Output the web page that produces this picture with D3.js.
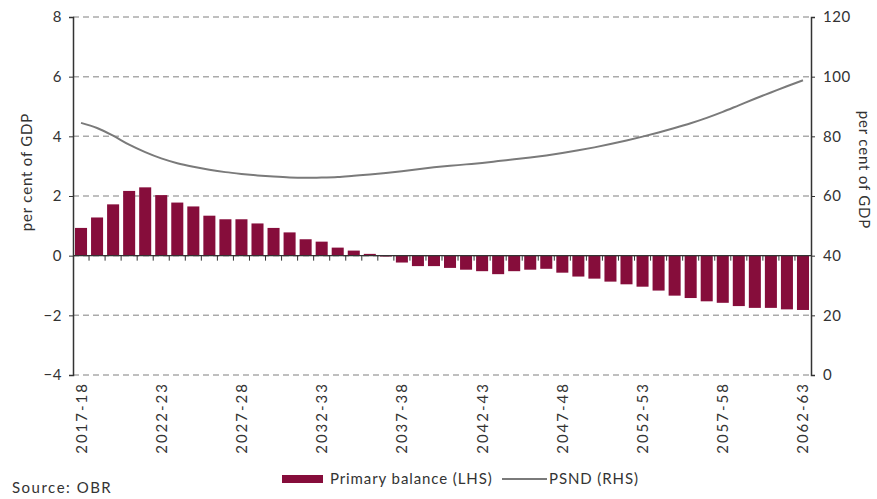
<!DOCTYPE html>
<html>
<head>
<meta charset="utf-8">
<script src="https://cdn.jsdelivr.net/npm/d3@7"></script>
<style>
  body { margin: 0; background: #fff; }
  text { font-family: Lato, "Open Sans", sans-serif; fill: #333; }
</style>
</head>
<body>
<svg id="chart" width="877" height="499"></svg>
<script>
// fiscal years 2017-18 .. 2062-63
var years = d3.range(2017, 2063).map(function(y){
    return y + "-" + String((y + 1) % 100).padStart(2, "0");
});
var primaryBalance = [
    0.93, 1.28, 1.72, 2.17, 2.29, 2.03, 1.78, 1.65, 1.34, 1.22,
    1.22, 1.08, 0.93, 0.78, 0.55, 0.47, 0.27, 0.17, 0.06, -0.03,
    -0.23, -0.35, -0.35, -0.41, -0.47, -0.52, -0.62, -0.52, -0.47, -0.44,
    -0.57, -0.70, -0.77, -0.87, -0.96, -1.04, -1.17, -1.34, -1.42, -1.53,
    -1.58, -1.69, -1.75, -1.75, -1.80, -1.82
];
var psnd = [
    84.5, 82.8, 80.2, 77.2, 74.7, 72.6, 71.0, 69.8, 68.8, 68.0,
    67.4, 66.9, 66.5, 66.2, 66.1, 66.2, 66.4, 66.8, 67.2, 67.7,
    68.3, 69.0, 69.6, 70.1, 70.6, 71.1, 71.7, 72.3, 72.9, 73.6,
    74.4, 75.3, 76.3, 77.4, 78.6, 79.9, 81.3, 82.8, 84.4, 86.2,
    88.2, 90.4, 92.6, 94.7, 96.8, 98.8
];
var leftTicks = [-4, -2, 0, 2, 4, 6, 8];
var rightTicks = [0, 20, 40, 60, 80, 100, 120];
var labelYears = years.filter(function(d, i){ return i % 5 == 0; });

var svg = d3.select("#chart");
var plotL = 73, plotR = 811, plotT = 17, plotB = 375;
var barColor = "#860d3b", lineColor = "#7a7a7a";

var x = d3.scaleBand().domain(years).range([plotL, plotR]).paddingInner(0.25).paddingOuter(0.125);
var yL = d3.scaleLinear().domain([-4, 8]).range([plotB, plotT]);
var yR = d3.scaleLinear().domain([0, 120]).range([plotB, plotT]);

// dashed grid
svg.append("g").selectAll("line").data(leftTicks).enter().append("line")
    .attr("x1", plotL).attr("x2", plotR)
    .attr("y1", function(d){ return yL(d); })
    .attr("y2", function(d){ return yL(d); })
    .attr("stroke", "#aaa").attr("stroke-width", 1.5)
    .attr("stroke-dasharray", "6,4");

// bars
svg.append("g").selectAll("rect").data(primaryBalance).enter().append("rect")
    .attr("x", function(d, i){ return x(years[i]); })
    .attr("width", x.bandwidth())
    .attr("y", function(d){ return yL(Math.max(0, d)); })
    .attr("height", function(d){ return Math.abs(yL(d) - yL(0)); })
    .attr("fill", barColor);

// zero line with category ticks
svg.append("line").attr("x1", plotL).attr("x2", plotR)
    .attr("y1", yL(0)).attr("y2", yL(0))
    .attr("stroke", "#333").attr("stroke-width", 1.2);
var step = x.step();
svg.append("g").selectAll("line").data(d3.range(1, years.length)).enter().append("line")
    .attr("x1", function(i){ return plotL + i*step; })
    .attr("x2", function(i){ return plotL + i*step; })
    .attr("y1", yL(0)).attr("y2", yL(0) + 5)
    .attr("stroke", "#333").attr("stroke-width", 1);

// PSND line
var line = d3.line()
    .x(function(d, i){ return x(years[i]) + x.bandwidth()/2; })
    .y(function(d){ return yR(d); })
    .curve(d3.curveMonotoneX);
svg.append("path").datum(psnd)
    .attr("d", line)
    .attr("fill", "none")
    .attr("stroke", lineColor)
    .attr("stroke-width", 2);

// axes
var axL = svg.append("g").attr("transform", "translate(" + plotL + ",0)")
    .call(d3.axisLeft(yL).tickValues(leftTicks).tickSize(4).tickPadding(7).tickFormat(d3.format("d")));
var axR = svg.append("g").attr("transform", "translate(" + plotR + ",0)")
    .call(d3.axisRight(yR).tickValues(rightTicks).tickSize(4).tickPadding(8));
[axL, axR].forEach(function(ax){
    ax.select(".domain").attr("stroke", "#333").attr("stroke-width", 1.5);
    ax.selectAll(".tick line").attr("stroke", "#333");
    ax.selectAll(".tick text").style("font-size", "15px").attr("fill", "#333")
        .style("letter-spacing", "0.5px")
        .style("font-family", "Lato, sans-serif");
});

// category labels
svg.append("g").selectAll("text").data(labelYears).enter().append("text")
    .attr("transform", function(d){
        return "translate(" + (x(d) + x.bandwidth()/2 + 5.5) + "," + (plotB + 7) + ") rotate(-90)";
    })
    .attr("text-anchor", "end")
    .style("font-size", "15px")
    .style("letter-spacing", "2px")
    .text(function(d){ return d; });

// axis titles
svg.append("text")
    .attr("transform", "translate(32,172) rotate(-90)")
    .attr("text-anchor", "middle")
    .style("font-size", "15px")
    .style("letter-spacing", "0.8px")
    .text("per cent of GDP");
svg.append("text")
    .attr("transform", "translate(859,170) rotate(90)")
    .attr("text-anchor", "middle")
    .style("font-size", "15px")
    .style("letter-spacing", "0.8px")
    .text("per cent of GDP");

// legend
var lg = svg.append("g").attr("transform", "translate(282,479)");
lg.append("rect").attr("x", 0).attr("y", -4).attr("width", 41).attr("height", 8).attr("fill", barColor);
lg.append("text").attr("x", 48).attr("y", 5).style("font-size", "15px").style("letter-spacing", "0.9px")
    .text("Primary balance (LHS)");
lg.append("line").attr("x1", 220).attr("x2", 265).attr("y1", 0).attr("y2", 0)
    .attr("stroke", lineColor).attr("stroke-width", 2);
lg.append("text").attr("x", 267).attr("y", 5).style("font-size", "15px").style("letter-spacing", "0.9px")
    .text("PSND (RHS)");

svg.append("text").attr("x", 12).attr("y", 493).style("font-size", "15px").style("letter-spacing", "1.5px")
    .text("Source: OBR");
</script>
</body>
</html>
